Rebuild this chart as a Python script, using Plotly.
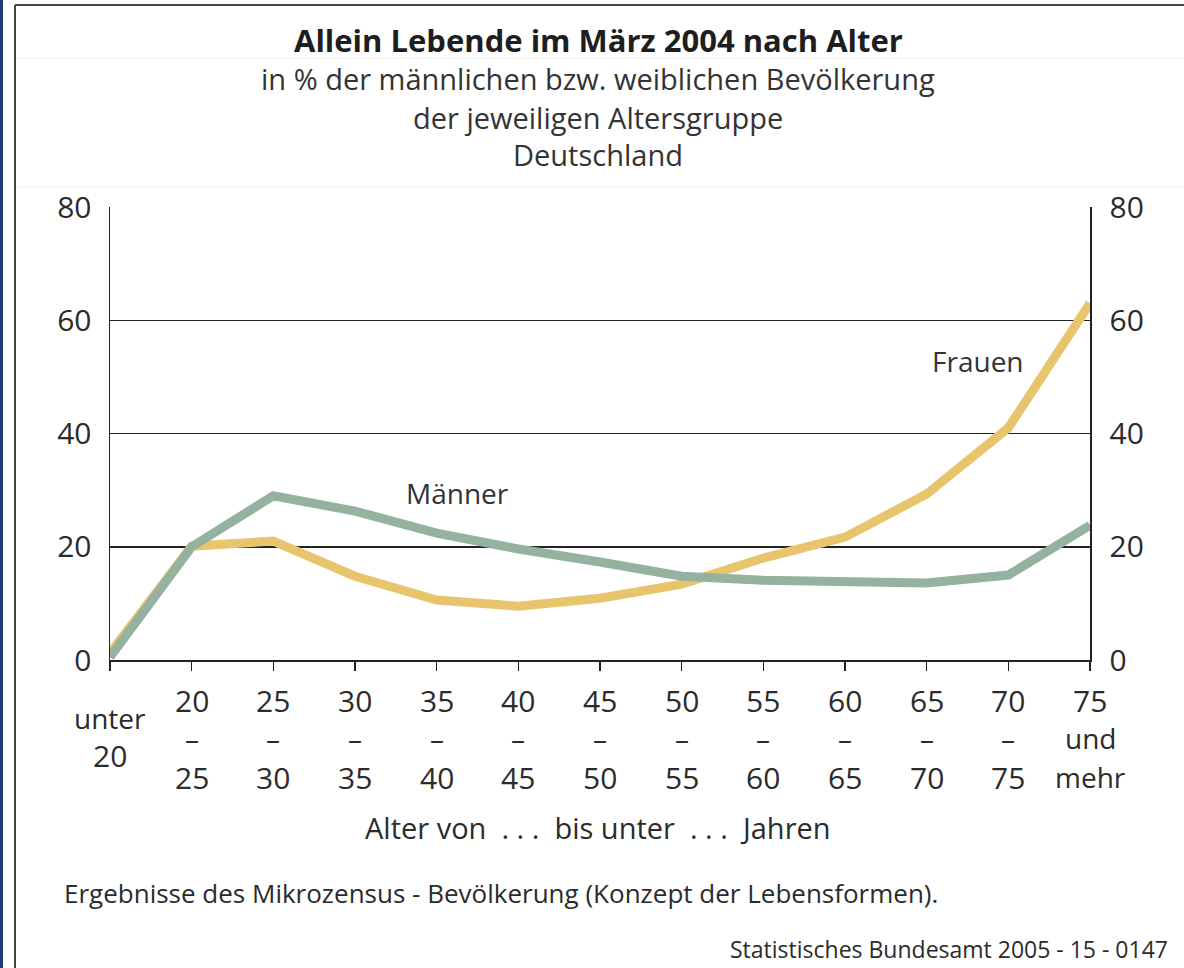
import plotly.graph_objects as go

categories = ["unter 20", "20-25", "25-30", "30-35", "35-40", "40-45", "45-50",
              "50-55", "55-60", "60-65", "65-70", "70-75", "75 und mehr"]
tick_top = ["", "20", "25", "30", "35", "40", "45", "50", "55", "60", "65", "70", "75"]
tick_mid = ["", "–", "–", "–", "–", "–", "–", "–", "–", "–", "–", "–", "und"]
tick_bot = ["", "25", "30", "35", "40", "45", "50", "55", "60", "65", "70", "75", "mehr"]
frauen = [1.2, 20.1, 21.0, 14.8, 10.6, 9.5, 10.9, 13.4, 18.0, 21.7, 29.3, 41.0, 63.0]
maenner = [0.5, 20.0, 29.0, 26.3, 22.4, 19.6, 17.3, 14.8, 14.1, 13.8, 13.6, 15.0, 23.8]
y_ticks = [0, 20, 40, 60, 80]

W, H = 1184, 968
L, R, T, B = 110, 1090, 207, 660
FONT = "Open Sans"
TXT = "#2b2b2b"


def px(x):
    return (x - L) / (R - L)


def py(y):
    return (B - y) / (B - T)


def fsize(t):
    return 30 if t.isdigit() else 28


xs = list(range(len(categories)))

fig = go.Figure()
fig.add_trace(go.Scatter(x=xs, y=frauen, mode="lines", name="Frauen",
                         line=dict(color="#E8C46C", width=9), hoverinfo="skip"))
fig.add_trace(go.Scatter(x=xs, y=maenner, mode="lines", name="Männer",
                         line=dict(color="#95B1A0", width=9), hoverinfo="skip"))
fig.add_trace(go.Scatter(x=[xs[0]], y=[0], mode="markers", yaxis="y2",
                         marker=dict(opacity=0), showlegend=False, hoverinfo="skip"))

fig.update_layout(
    width=W, height=H,
    margin=dict(l=L, r=W - R, t=T, b=H - B),
    paper_bgcolor="white", plot_bgcolor="white",
    showlegend=False,
    font=dict(family=FONT, size=25, color=TXT),
    xaxis=dict(range=[0, len(categories) - 1], tickvals=xs, ticktext=[""] * len(xs),
               ticks="outside", ticklen=9, tickwidth=1.5, tickcolor="#222",
               showgrid=False, zeroline=False, showline=True, linecolor="#222",
               linewidth=1.5, mirror=False, fixedrange=True),
    yaxis=dict(range=[0, 80], tickvals=y_ticks, showgrid=True, gridcolor="#222",
               gridwidth=1.5, zeroline=False, showline=True, linecolor="#222",
               linewidth=1.5, ticks="outside", ticklen=11, tickcolor="rgba(0,0,0,0)",
               tickfont=dict(size=30, color=TXT, family=FONT), fixedrange=True),
    yaxis2=dict(range=[0, 80], tickvals=y_ticks, overlaying="y", side="right",
                showgrid=False, zeroline=False, showline=True, linecolor="#222",
                linewidth=1.5, ticks="outside", ticklen=12, tickcolor="rgba(0,0,0,0)",
                tickfont=dict(size=30, color=TXT, family=FONT), fixedrange=True),
)

ann = []
# title block
ann.append(dict(text="<b>Allein Lebende im März 2004 nach Alter</b>", x=px(598), y=py(40),
                font=dict(size=31, color="#1e1e1e")))
for t, yy in [("in % der männlichen bzw. weiblichen Bevölkerung", 78),
              ("der jeweiligen Altersgruppe", 117), ("Deutschland", 154)]:
    ann.append(dict(text=t, x=px(598), y=py(yy), font=dict(size=29, color="#333")))

# x tick labels
for i in xs:
    if i == 0:
        ann.append(dict(text="unter", x=i, xref="x", y=py(718), font=dict(size=28, color=TXT)))
        ann.append(dict(text="20", x=i, xref="x", y=py(755), font=dict(size=30, color=TXT)))
        continue
    for t, yy in [(tick_top[i], 700), (tick_mid[i], 738), (tick_bot[i], 777)]:
        ann.append(dict(text=t, x=i, xref="x", y=py(yy), font=dict(size=fsize(t), color=TXT)))

ann.append(dict(text="Alter von  . . .  bis unter  . . .  Jahren", x=px(598), y=py(827),
                font=dict(size=29, color=TXT)))

# series labels
ann.append(dict(text="Männer", x=px(457), y=py(493), font=dict(size=28, color="#333")))
ann.append(dict(text="Frauen", x=px(978), y=py(361), font=dict(size=28, color="#333")))

# footer
ann.append(dict(text="Ergebnisse des Mikrozensus - Bevölkerung (Konzept der Lebensformen).",
                x=px(62), y=py(893), xanchor="left", font=dict(size=26, color=TXT)))
ann.append(dict(text="Statistisches Bundesamt 2005 - 15 - 0147", x=px(1170), y=py(949),
                xanchor="right", font=dict(size=23, color=TXT)))

for a in ann:
    a.setdefault("xref", "paper")
    a.setdefault("yref", "paper")
    a.setdefault("xanchor", "center")
    a.setdefault("yanchor", "middle")
    a["showarrow"] = False
fig.update_layout(annotations=ann)

shapes = [
    # outer frame
    dict(type="line", xref="paper", yref="paper", x0=px(15), x1=px(1200), y0=py(5), y1=py(5),
         line=dict(color="#444", width=2)),
    dict(type="line", xref="paper", yref="paper", x0=px(15), x1=px(15), y0=py(5), y1=py(975),
         line=dict(color="#444", width=2)),
    # left blue strip
    dict(type="rect", xref="paper", yref="paper", x0=px(-2), x1=px(3), y0=py(-5), y1=py(975),
         fillcolor="#1F3B78", line=dict(width=0)),
    # faint separators
    dict(type="line", xref="paper", yref="paper", x0=px(17), x1=px(1184), y0=py(58), y1=py(58),
         line=dict(color="#f0f0f0", width=1)),
    dict(type="line", xref="paper", yref="paper", x0=px(17), x1=px(1184), y0=py(187), y1=py(187),
         line=dict(color="#f0f0f0", width=1)),
]
fig.update_layout(shapes=shapes)

fig.write_html("out.html", config={"displayModeBar": False, "staticPlot": True})

with open("out.html", "r", encoding="utf-8") as f:
    html = f.read()
html = html.replace("<head>", "<head><style>html,body{margin:0;padding:0;overflow:hidden;}</style>", 1)
with open("out.html", "w", encoding="utf-8") as f:
    f.write(html)
